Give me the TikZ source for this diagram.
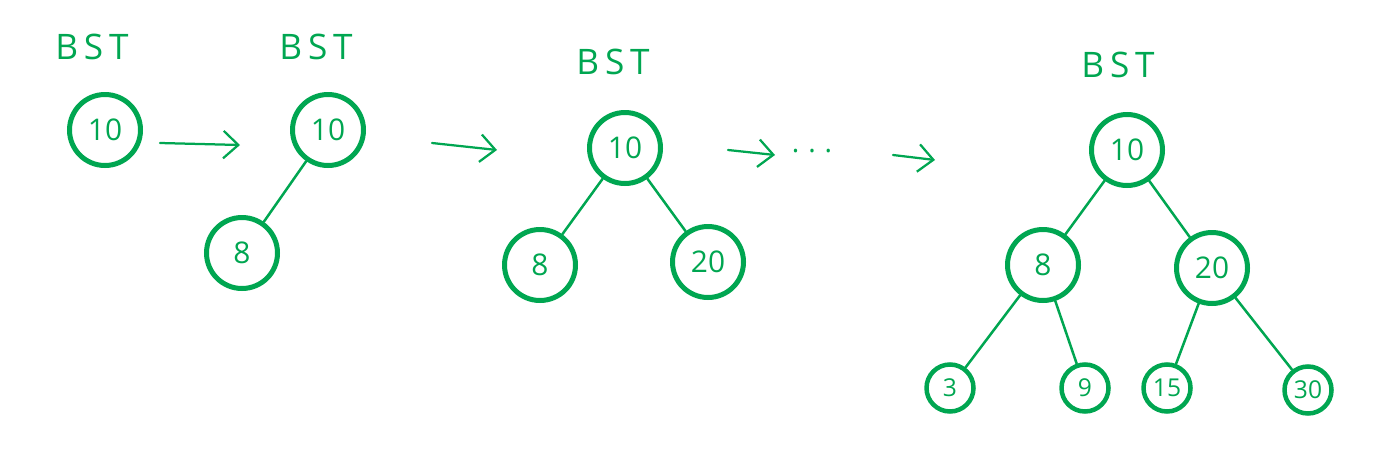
\documentclass[tikz,border=0pt]{standalone}
\usepackage{fontspec}
\setsansfont{Open Sans}
\usetikzlibrary{arrows.meta}
\definecolor{penGreen}{RGB}{0,166,81}
\begin{document}
\begin{tikzpicture}[
    every node/.style={text=penGreen, font=\sffamily},
    key/.style={circle, draw=penGreen, line width=0.1cm, inner sep=0pt,
      minimum size=1.42cm, font=\sffamily\fontsize{17}{17}\selectfont},
    leaf/.style={key, minimum size=0.94cm, line width=0.09cm,
      font=\sffamily\fontsize{14}{14}\selectfont},
    tag/.style={font=\sffamily\fontsize{20}{20}\selectfont},
    edge/.style={draw=penGreen, line width=0.05cm, line cap=round},
    step arrow/.style={edge, line width=0.045cm,
      -{Straight Barb[length=0.3cm, width=0.55cm, line width=0.045cm]}}
  ]
  \useasboundingbox (0,0) rectangle (27.8,9.08);
  % labels
  \draw
    (1.84,8.14) node[tag] (l1){B\,S\,T}
    (6.32,8.14) node[tag] (l2){B\,S\,T}
    (12.26,7.84) node[tag] (l3){B\,S\,T}
    (22.36,7.78) node[tag] (l4){B\,S\,T};
  % trees
  \draw
    (2.10,6.48) node[key] (t1r){10}
    (6.56,6.48) node[key] (t2r){10}
    (4.84,4.02) node[key] (t2a){8}
    (12.50,6.12) node[key] (t3r){10}
    (10.80,3.78) node[key] (t3a){8}
    (14.16,3.84) node[key] (t3b){20}
    (22.54,6.08) node[key] (t4r){10}
    (20.86,3.78) node[key] (t4a){8}
    (24.24,3.72) node[key] (t4b){20}
    (19.00,1.32) node[leaf] (t4c){3}
    (21.70,1.32) node[leaf] (t4d){9}
    (23.34,1.32) node[leaf] (t4e){15}
    (26.16,1.28) node[leaf] (t4f){30};
  \begin{scope}[edge]
    \draw (t2r) to (t2a);
    \draw (t3r) to (t3a);
    \draw (t3r) to (t3b);
    \draw (t4r) to (t4a);
    \draw (t4r) to (t4b);
    \draw (t4a) to (t4c);
    \draw (t4a) to (t4d);
    \draw (t4b) to (t4e);
    \draw (t4b) to (t4f);
  \end{scope}
  % steps between trees
  \coordinate (s1a) at (3.20,6.22);
  \coordinate (s1b) at (4.80,6.18);
  \coordinate (s2a) at (8.64,6.22);
  \coordinate (s2b) at (9.94,6.08);
  \coordinate (s3a) at (14.56,6.08);
  \coordinate (s3b) at (15.50,5.98);
  \coordinate (s4a) at (17.86,5.98);
  \coordinate (s4b) at (18.70,5.88);
  \node[font=\sffamily\fontsize{16}{16}\selectfont] (dots) at (16.24,6.06) {.\hspace{0.18cm}.\hspace{0.18cm}.};
  \begin{scope}[step arrow]
    \draw (s1a) to (s1b);
    \draw (s2a) to (s2b);
    \draw (s3a) to (s3b);
    \draw (s4a) to (s4b);
  \end{scope}
\end{tikzpicture}
\end{document}
